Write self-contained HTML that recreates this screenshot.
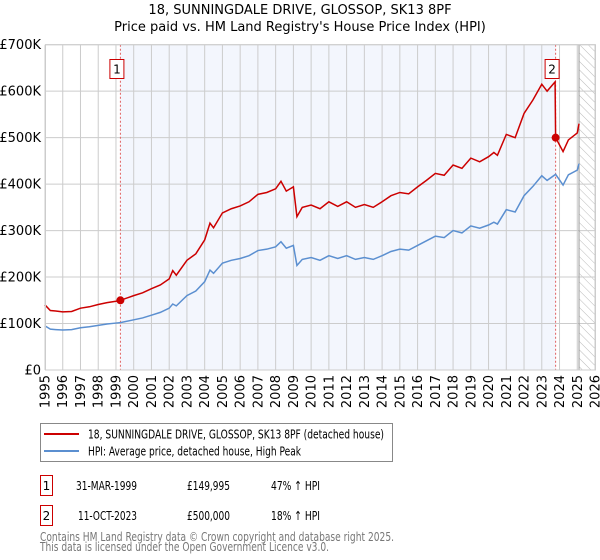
<!DOCTYPE html>
<html><head><meta charset="utf-8"><style>
body{margin:0;background:#fff;font-family:"DejaVu Sans","Liberation Sans",sans-serif;}
#wrap{position:relative;width:600px;height:560px;overflow:hidden}
</style></head><body><div id="wrap">
<svg id="chart" width="600" height="560" style="position:absolute;left:0;top:0">
<defs><pattern id="hatch" width="6" height="6" patternUnits="userSpaceOnUse" patternTransform="rotate(-45)"><line x1="0" y1="0" x2="0" y2="6" stroke="#bbb" stroke-width="1"/></pattern></defs>
<text x="300" y="14" text-anchor="middle" font-size="13">18, SUNNINGDALE DRIVE, GLOSSOP, SK13 8PF</text>
<text x="300" y="31" text-anchor="middle" font-size="13">Price paid vs. HM Land Registry's House Price Index (HPI)</text>
<g id="plot"></g>
</svg>
<svg width="600" height="560" style="position:absolute;left:0;top:0;pointer-events:none">
<rect x="40.5" y="423.5" width="352" height="38" fill="#fff" stroke="#888"/>
<line x1="44" y1="434" x2="79" y2="434" stroke="#cc0000" stroke-width="2"/>
<text x="88" y="438.5" font-size="12.5" textLength="296" lengthAdjust="spacingAndGlyphs">18, SUNNINGDALE DRIVE, GLOSSOP, SK13 8PF (detached house)</text>
<line x1="44" y1="451" x2="79" y2="451" stroke="#5b8fd0" stroke-width="2"/>
<text x="88" y="455.5" font-size="12.5" textLength="213" lengthAdjust="spacingAndGlyphs">HPI: Average price, detached house, High Peak</text>
<rect x="40.5" y="475.5" width="12" height="20" fill="#fff" stroke="#cc0000"/>
<text x="46.5" y="490" font-size="12" text-anchor="middle">1</text>
<text x="76" y="490" font-size="12.5" textLength="61" lengthAdjust="spacingAndGlyphs">31-MAR-1999</text>
<text x="187" y="490" font-size="12.5" textLength="43" lengthAdjust="spacingAndGlyphs">£149,995</text>
<text x="271" y="490" font-size="12.5" textLength="49" lengthAdjust="spacingAndGlyphs">47% ↑ HPI</text>
<rect x="40.5" y="505.5" width="12" height="20" fill="#fff" stroke="#cc0000"/>
<text x="46.5" y="520" font-size="12" text-anchor="middle">2</text>
<text x="78" y="520" font-size="12.5" textLength="59" lengthAdjust="spacingAndGlyphs">11-OCT-2023</text>
<text x="187" y="520" font-size="12.5" textLength="43" lengthAdjust="spacingAndGlyphs">£500,000</text>
<text x="271" y="520" font-size="12.5" textLength="49" lengthAdjust="spacingAndGlyphs">18% ↑ HPI</text>
<text x="40" y="541" font-size="12.5" fill="#777" textLength="354" lengthAdjust="spacingAndGlyphs">Contains HM Land Registry data © Crown copyright and database right 2025.</text>
<text x="40" y="551" font-size="12.5" fill="#777" textLength="289" lengthAdjust="spacingAndGlyphs">This data is licensed under the Open Government Licence v3.0.</text>
</svg>
</div>
<script>
const yTicks=[0,100000,200000,300000,400000,500000,600000,700000];
const yTickLabels=["£0","£100K","£200K","£300K","£400K","£500K","£600K","£700K"];
const xYears=[1995,1996,1997,1998,1999,2000,2001,2002,2003,2004,2005,2006,2007,2008,2009,2010,2011,2012,2013,2014,2015,2016,2017,2018,2019,2020,2021,2022,2023,2024,2025,2026];
const hpiDates=[1995,1995.3,1995.6,1996,1996.5,1997,1997.5,1998,1998.5,1999,1999.25,2000,2000.5,2001,2001.5,2002,2002.2,2002.4,2003,2003.5,2004,2004.3,2004.5,2005,2005.5,2006,2006.5,2007,2007.5,2008,2008.3,2008.6,2009,2009.2,2009.5,2010,2010.5,2011,2011.5,2012,2012.5,2013,2013.5,2014,2014.5,2015,2015.5,2016,2016.5,2017,2017.5,2018,2018.5,2019,2019.5,2020,2020.3,2020.5,2021,2021.5,2022,2022.5,2023,2023.3,2023.78,2024.2,2024.5,2025,2025.1];
const hpiValues=[95000,88000,87000,86000,87000,91000,93000,96000,99000,101000,102000,108000,112000,118000,124000,133000,142000,138000,160000,170000,190000,215000,208000,230000,236000,240000,246000,257000,260000,265000,276000,262000,268000,225000,238000,242000,236000,246000,240000,246000,238000,242000,238000,246000,255000,260000,258000,268000,278000,288000,285000,300000,295000,310000,305000,312000,318000,314000,345000,340000,375000,395000,418000,408000,421000,398000,420000,430000,444000];
const priceDates=[1995,1995.3,1995.6,1996,1996.5,1997,1997.5,1998,1998.5,1999,1999.25,2000,2000.5,2001,2001.5,2002,2002.2,2002.4,2003,2003.5,2004,2004.3,2004.5,2005,2005.5,2006,2006.5,2007,2007.5,2008,2008.3,2008.6,2009,2009.2,2009.5,2010,2010.5,2011,2011.5,2012,2012.5,2013,2013.5,2014,2014.5,2015,2015.5,2016,2016.5,2017,2017.5,2018,2018.5,2019,2019.5,2020,2020.3,2020.5,2021,2021.5,2022,2022.5,2023,2023.3,2023.75,2023.78,2024.2,2024.5,2025,2025.1];
const priceValues=[140000,128000,127000,125000,126000,133000,136000,141000,145000,148000,149995,160000,166000,175000,183000,196000,214000,204000,236000,250000,280000,316000,306000,338000,347000,353000,362000,378000,382000,390000,406000,385000,394000,330000,350000,355000,347000,362000,352000,362000,350000,356000,350000,362000,375000,382000,379000,394000,408000,423000,419000,441000,434000,456000,448000,459000,468000,462000,507000,500000,552000,581000,615000,600000,620000,500000,470000,495000,510000,530000];
const sales=[{d:1999.25,v:149995,n:"1"},{d:2023.78,v:500000,n:"2"}];

const X0=45,X1=595,Y0=370,Y1=44.7;
const xs=d=>X0+(d-1995)/(2026-1995)*(X1-X0);
const ys=v=>Y0-v/700000*(Y0-Y1);
const NS="http://www.w3.org/2000/svg";
const g=document.getElementById('plot');
function mk(tag,attrs,parent){const e=document.createElementNS(NS,tag);for(const k in attrs)e.setAttribute(k,attrs[k]);(parent||g).appendChild(e);return e;}
let sh=mk('rect',{x:xs(sales[0].d),y:Y1,width:xs(sales[1].d)-xs(sales[0].d),height:Y0-Y1,fill:'#f3f6fd'});


let ht=mk('rect',{x:xs(2025.1),y:Y1,width:X1-xs(2025.1),height:Y0-Y1,fill:'url(#hatch)'});


yTicks.forEach((t,i)=>{
  let l=mk('line',{x1:X0,x2:X1,y1:ys(t),y2:ys(t),stroke:'#ccc','stroke-width':1});
  
  
  let tx=mk('text',{x:X0-4,y:ys(t)+4.5,'text-anchor':'end','font-size':13});
  tx.textContent=yTickLabels[i];
  
  
});
xYears.forEach(yr=>{
  let l=mk('line',{x1:xs(yr),x2:xs(yr),y1:Y1,y2:Y0,stroke:'#ccc','stroke-width':1});
  
  
  let tx=mk('text',{x:0,y:0,'font-size':13,'text-anchor':'end',transform:`translate(${xs(yr)+4.5},${Y0+5}) rotate(-90)`});
  tx.textContent=yr;
  
  
});
let vl=mk('line',{x1:xs(2025.1),x2:xs(2025.1),y1:Y1,y2:Y0,stroke:'#999','stroke-width':1});


sales.forEach(s=>{
  let l=mk('line',{x1:xs(s.d),x2:xs(s.d),y1:Y1,y2:Y0,stroke:'#e06060','stroke-width':1,'stroke-dasharray':'2,2'});
  
  
});
let hp=mk('polyline',{points:hpiDates.map((d,i)=>xs(d)+','+ys(hpiValues[i])).join(' '),fill:'none',stroke:'#5b8fd0','stroke-width':1.5});


let pr=mk('polyline',{points:priceDates.map((d,i)=>xs(d)+','+ys(priceValues[i])).join(' '),fill:'none',stroke:'#cc0000','stroke-width':1.5});


sales.forEach(s=>{
  let c=mk('circle',{cx:xs(s.d),cy:ys(s.v),r:4,fill:'#cc0000'});
  
  
  let b=mk('rect',{x:xs(s.d)-10.5,y:59.5,width:14,height:19,fill:'#fff',stroke:'#cc0000'});
  
  
  let t=mk('text',{x:xs(s.d)-3.5,y:73.5,'text-anchor':'middle','font-size':12});
  t.textContent=s.n;
  
  
});
let fr=mk('rect',{x:X0+0.5,y:Y1,width:X1-X0,height:Y0-Y1,fill:'none',stroke:'#ccc'});


</script>
</body></html>
